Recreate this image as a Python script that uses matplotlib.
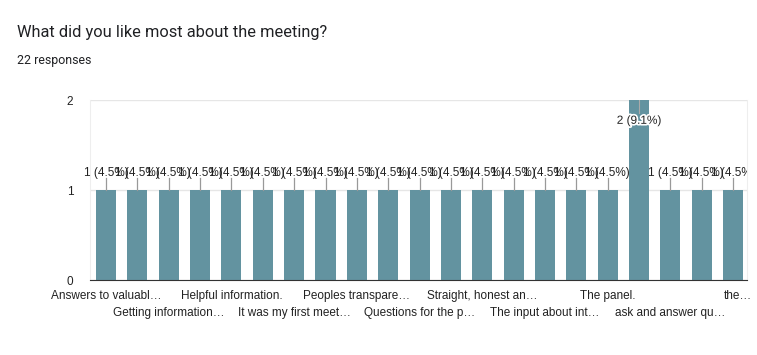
import matplotlib.pyplot as plt
import matplotlib.patheffects as pe
import matplotlib.transforms as mtransforms

# answers (only every other label is shown on the axis, the rest are hidden)
labels = ["Answers to valuabl…", None, "Getting information…", None,
          "Helpful information.", None, "It was my first meet…", None,
          "Peoples transpare…", None, "Questions for the p…", None,
          "Straight, honest an…", None, "The input about int…", None,
          "The panel.", None, "ask and answer qu…", None, "the…"]
counts = [1, 1, 1, 1, 1, 1, 1, 1, 1, 1, 1, 1, 1, 1, 1, 1, 1, 2, 1, 1, 1]
total = 22

fig = plt.figure(figsize=(7.57, 3.55), dpi=100)
ax = fig.add_axes([0.119, 0.211, 0.868, 0.507])

x = list(range(len(counts)))
ax.bar(x, counts, width=0.64, color="#6393a0", zorder=2)

ax.set_xlim(-0.51, 20.45)
ax.set_ylim(0, 2)
ax.set_yticks([0, 1, 2])
ax.set_yticklabels(["0", "1", "2"], fontsize=8.5, family="Liberation Sans", color="#222222")
ax.tick_params(axis="y", length=0, pad=12)
ax.set_xticks([])
ax.grid(axis="y", color="#e6e6e6", linewidth=1, zorder=0)

ax.spines["top"].set_visible(False)
ax.spines["left"].set_color("#eeeeee")
ax.spines["right"].set_color("#eeeeee")
ax.spines["bottom"].set_color("#333333")
ax.spines["bottom"].set_zorder(3)

# category labels in two staggered rows
trans = mtransforms.blended_transform_factory(ax.transData, ax.transAxes)
row = 0
for i, lab in enumerate(labels):
    if lab is None:
        continue
    yy = -0.09 if row % 2 == 0 else -0.185
    ax.text(i + (0.15 if i == len(labels) - 1 else 0), yy, lab, transform=trans,
            ha="center", va="center", fontsize=8.5, family="Liberation Sans",
            color="#222222")
    row += 1

# value labels with leader lines (the tallest one sits inside its bar)
top = max(counts)
for i, c in enumerate(counts):
    pct = c / total * 100
    txt = f"{c} ({pct:.1f}%)"
    if c == top:
        ty = c - 0.23
        ax.plot([i, i], [c - 0.14, c], color="#aaaaaa", linewidth=0.8, zorder=3)
    else:
        ty = c + 0.19
        ax.plot([i, i], [c, c + 0.13], color="#999999", linewidth=0.9, zorder=3)
    # only the last label runs past the right edge of the plot and gets cut
    t = ax.text(i, ty, txt, ha="center", va="center", fontsize=8.5,
                family="Liberation Sans", color="#222222", zorder=4,
                clip_on=(i == len(counts) - 1))
    if c == top:
        t.set_path_effects([pe.withStroke(linewidth=2.5, foreground="white")])

fig.text(0.022, 0.908, "What did you like most about the meeting?", fontsize=11.8,
         family="Roboto", color="#202124", va="center")
fig.text(0.022, 0.83, f"{total} responses", fontsize=8.9, family="Roboto",
         color="#202124", va="center")

fig.savefig("out.png", dpi=100)
